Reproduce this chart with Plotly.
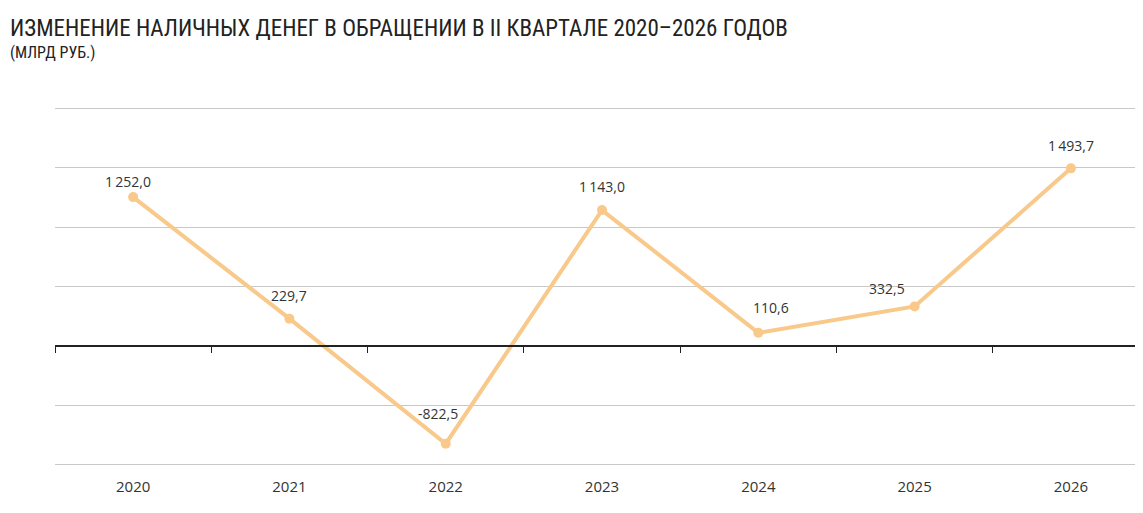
import plotly.graph_objects as go

# Данные
years = ["2020", "2021", "2022", "2023", "2024", "2025", "2026"]
values = [1252.0, 229.7, -822.5, 1143.0, 110.6, 332.5, 1493.7]
y_grid = [-1000, -500, 0, 500, 1000, 1500, 2000]

title = "ИЗМЕНЕНИЕ НАЛИЧНЫХ ДЕНЕГ В ОБРАЩЕНИИ В II КВАРТАЛЕ 2020–2026 ГОДОВ"
subtitle = "(МЛРД РУБ.)"

# сдвиг подписей относительно точек (пиксели)
label_dx = [-5, 0, -8, 0, 13, -28, 0]
label_dy = [16, 23, 30, 24, 25, 18, 23]

line_color = "#F8C98A"
text_color = "#333333"
y_min, y_max = -1010, 2010
x_range = [-0.5, 6.41]

fig = go.Figure()

fig.add_trace(go.Scatter(
    x=years, y=values,
    mode="lines+markers",
    line=dict(color=line_color, width=4),
    marker=dict(color=line_color, size=10),
    showlegend=False,
    hoverinfo="skip",
))

# ось с делениями по нулю (границы категорий)
fig.add_trace(go.Scatter(x=[], y=[], xaxis="x2", showlegend=False))

labels = [
    dict(x=i, y=v, text=f"{v:,.1f}".replace(",", "\u2009").replace(".", ","),
         xref="x", yref="y", showarrow=False, xanchor="center", yanchor="middle",
         xshift=dx, yshift=dy,
         font=dict(family="Open Sans", size=14, color=text_color))
    for i, (v, dx, dy) in enumerate(zip(values, label_dx, label_dy))
]

fig.update_layout(
    width=1127, height=497,
    margin=dict(l=47, r=0, t=99, b=39),
    paper_bgcolor="white", plot_bgcolor="white",
    font=dict(family="Open Sans", size=14, color=text_color),
    xaxis=dict(
        type="category",
        range=x_range,
        showgrid=False, showline=False, zeroline=False,
        ticks="", ticklabelstandoff=10,
        tickfont=dict(size=15, color=text_color),
    ),
    xaxis2=dict(
        overlaying="x", anchor="free",
        position=(0 - y_min) / (y_max - y_min),
        range=x_range,
        tickvals=[i - 0.5 for i in range(len(years) + 1)],
        showticklabels=False,
        ticks="outside", ticklen=6, tickcolor="#222222", tickwidth=1,
        showline=True, linecolor="#222222", linewidth=1.5,
        showgrid=False, zeroline=False,
    ),
    yaxis=dict(
        range=[y_min, y_max],
        tickvals=y_grid,
        showticklabels=False,
        showgrid=True, gridcolor="#C8C8C8", gridwidth=1,
        zeroline=False, showline=False,
    ),
    annotations=labels + [
        dict(text=title, xref="paper", yref="paper", x=-47 / 1080, y=1 + 79 / 359,
             xanchor="left", yanchor="middle", showarrow=False,
             font=dict(family="Liberation Sans Narrow, Roboto Condensed, Roboto", size=23, color="#222222")),
        dict(text=subtitle, xref="paper", yref="paper", x=-47 / 1080, y=1 + 55 / 359,
             xanchor="left", yanchor="middle", showarrow=False,
             font=dict(family="Liberation Sans Narrow, Roboto Condensed, Roboto", size=16, color="#222222")),
    ],
)

fig.write_html("out.html")
